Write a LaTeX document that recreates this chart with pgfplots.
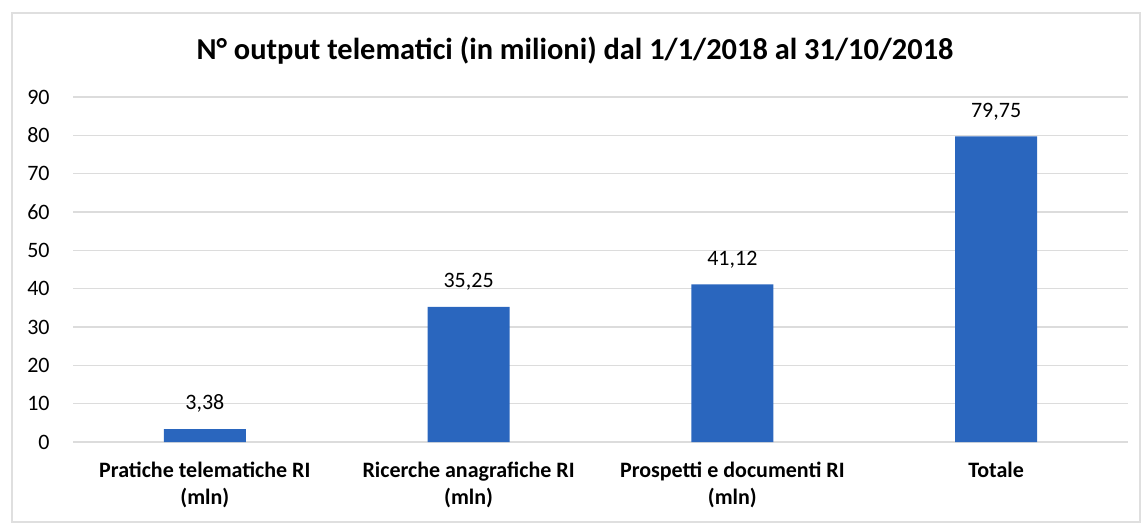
\documentclass[border=0pt]{standalone}
\usepackage{pgfplots}
\pgfplotsset{compat=1.18}
\usepackage{fontspec}
\setmainfont{Carlito}
\definecolor{barblue}{RGB}{42,102,190}
\definecolor{gridgrey}{RGB}{220,220,220}
\begin{document}
\begin{tikzpicture}
\useasboundingbox (0pt,0pt) rectangle (572.5pt,-263pt);
\draw[gray!25, line width=0.8pt] (6pt,-6.5pt) rectangle (570pt,-261pt);
\node[font=\fontsize{15.2}{18}\selectfont\bfseries] at (287.5pt,-25.5pt) {N° output telematici (in milioni) dal 1/1/2018 al 31/10/2018};
\begin{axis}[
  at={(36.5pt,-221pt)}, anchor=south west,
  scale only axis, width=527.5pt, height=172.5pt,
  xmin=-0.5, xmax=3.5, ymin=0, ymax=90,
  ytick={0,10,...,90},
  xtick={0,1,2,3},
  xticklabels={{Pratiche telematiche RI\\(mln)},{Ricerche anagrafiche RI\\(mln)},{Prospetti e documenti RI\\(mln)},{Totale}},
  xticklabel style={align=center, font=\fontsize{11}{13.5}\selectfont\bfseries, inner sep=0pt, yshift=-10pt, anchor=north},
  yticklabel style={font=\fontsize{11}{13}\selectfont, inner sep=0pt, xshift=-11.5pt, anchor=east},
  /pgf/number format/assume math mode=true,
  major tick length=0pt,
  axis line style={draw=none},
  ymajorgrids, grid style={gridgrey, line width=0.8pt},
  ybar, bar width=41pt,
  nodes near coords,
  nodes near coords style={font=\fontsize{11}{13}\selectfont, inner sep=0pt, anchor=south, yshift=8pt,
    /pgf/number format/.cd, fixed, fixed zerofill, precision=2, use comma, assume math mode=true},
  clip=false,
]
\addplot[fill=barblue, draw=none] coordinates {(0,3.38) (1,35.25) (2,41.12) (3,79.75)};
\end{axis}
\end{tikzpicture}
\end{document}
